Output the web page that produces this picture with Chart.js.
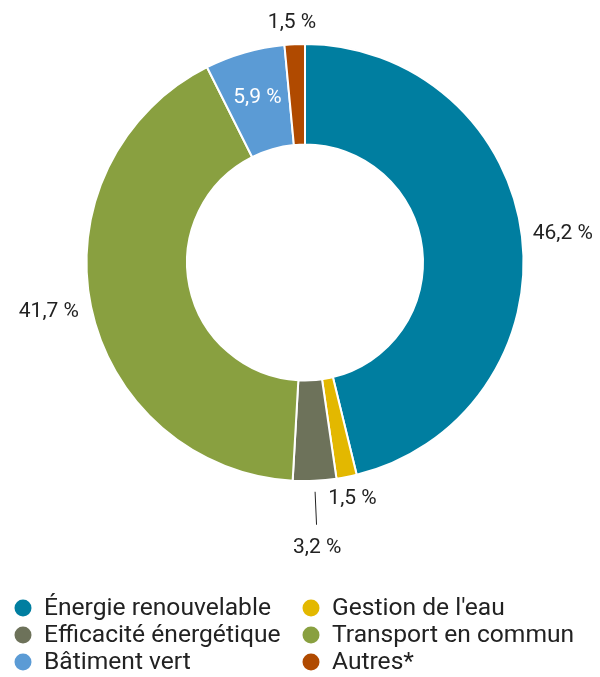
<!DOCTYPE html>
<html>
<head>
<meta charset="utf-8">
<script src="https://cdn.jsdelivr.net/npm/chart.js@4.4.1/dist/chart.umd.min.js"></script>
<style>
  html, body { margin: 0; padding: 0; background: #fff; }
  #wrap { position: relative; width: 600px; height: 677px; }
</style>
</head>
<body>
<div id="wrap"><canvas id="chart" width="600" height="677"></canvas></div>
<script>
// Répartition (%) par catégorie
var categories = ['Énergie renouvelable', 'Gestion de l\'eau', 'Efficacité énergétique',
                  'Transport en commun', 'Bâtiment vert', 'Autres*'];
var shares = [46.2, 1.5, 3.2, 41.7, 5.9, 1.5];
var colors = ['#007EA0', '#E3B800', '#6D725A', '#89A040', '#5B9BD5', '#B04A00'];

// the one slice whose label sits inside the ring, in white
var insideLabelIndex = 4;
// legend laid out two per row, in this order
var legendOrder = [0, 1, 2, 3, 4, 5];

function fmt(v) { return v.toFixed(1).replace('.', ',') + ' %'; }

var sliceLabels = {
    id: 'sliceLabels',
    afterDatasetsDraw: function (chart) {
        var ctx = chart.ctx;
        var meta = chart.getDatasetMeta(0);
        var placed = [];
        ctx.save();
        ctx.font = '21px Roboto';
        ctx.textAlign = 'center';
        ctx.textBaseline = 'middle';
        meta.data.forEach(function (arc, i) {
            var p = arc.getProps(['x', 'y', 'startAngle', 'endAngle', 'innerRadius', 'outerRadius'], true);
            var a = (p.startAngle + p.endAngle) / 2;
            var txt = fmt(shares[i]);
            if (i === insideLabelIndex) {
                var rm = (p.innerRadius + p.outerRadius) / 2 + 4;
                ctx.fillStyle = '#fff';
                ctx.fillText(txt, p.x + rm * Math.cos(a), p.y + rm * Math.sin(a) + 1);
                return;
            }
            var w = ctx.measureText(txt).width, h = 20;
            var r = p.outerRadius + 12;
            var box = function (rr) {
                var cx = p.x + rr * Math.cos(a) + w / 2 * Math.cos(a);
                var cy = p.y + rr * Math.sin(a) + h / 2 * Math.sin(a);
                return { cx: cx, cy: cy, x0: cx - w / 2, x1: cx + w / 2, y0: cy - h / 2, y1: cy + h / 2 };
            };
            var b = box(r);
            var hits = function (bb) {
                return placed.some(function (q) {
                    return bb.x0 < q.x1 && bb.x1 > q.x0 && bb.y0 < q.y1 && bb.y1 > q.y0;
                });
            };
            if (hits(b)) {
                var r2 = r + 45;
                b = box(r2);
                ctx.strokeStyle = '#222';
                ctx.lineWidth = 1;
                ctx.beginPath();
                ctx.moveTo(p.x + (r - 1) * Math.cos(a), p.y + (r - 1) * Math.sin(a));
                ctx.lineTo(p.x + (r2 - 13) * Math.cos(a), p.y + (r2 - 13) * Math.sin(a));
                ctx.stroke();
            }
            placed.push(b);
            ctx.fillStyle = '#222';
            ctx.fillText(txt, b.cx - 1, b.cy);
        });
        ctx.restore();
    }
};

var bottomLegend = {
    id: 'bottomLegend',
    afterDraw: function (chart) {
        var ctx = chart.ctx;
        ctx.save();
        ctx.font = '24.6px Roboto';
        ctx.textBaseline = 'middle';
        ctx.textAlign = 'left';
        legendOrder.forEach(function (idx, k) {
            var col = k % 2, row = Math.floor(k / 2);
            var cx = col === 0 ? 23 : 311;
            var cy = 608 + row * 27;
            ctx.fillStyle = colors[idx];
            ctx.beginPath();
            ctx.arc(cx, cy, 8.5, 0, Math.PI * 2);
            ctx.fill();
            ctx.fillStyle = '#222';
            ctx.fillText(categories[idx], cx + 21, cy + 1);
        });
        ctx.restore();
    }
};

new Chart(document.getElementById('chart').getContext('2d'), {
    type: 'doughnut',
    data: {
        labels: categories,
        datasets: [{
            data: shares,
            backgroundColor: colors,
            borderColor: '#ffffff',
            borderWidth: 2
        }]
    },
    options: {
        responsive: false,
        animation: false,
        cutout: '54%',
        layout: { padding: { top: 43, bottom: 195, left: 10, right: 0 } },
        plugins: {
            legend: { display: false },
            tooltip: { enabled: false }
        }
    },
    plugins: [sliceLabels, bottomLegend]
});
</script>
</body>
</html>
